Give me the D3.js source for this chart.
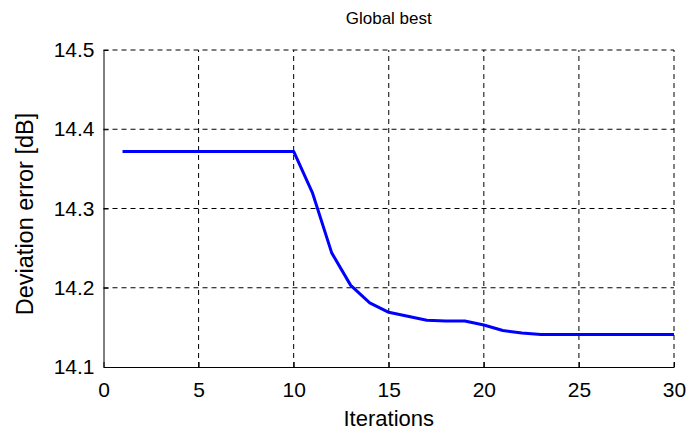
<!DOCTYPE html>
<html>
<head>
<meta charset="utf-8">
<script src="https://cdn.jsdelivr.net/npm/d3@7"></script>
<style>
  body { margin: 0; background: #fff; }
  svg { font-family: "Liberation Sans", Arial, sans-serif; }
</style>
</head>
<body>
<script>
const iterations = [1, 2, 3, 4, 5, 6, 7, 8, 9, 10, 11, 12, 13, 14, 15, 16, 17, 18, 19, 20, 21, 22, 23, 24, 25, 26, 27, 28, 29, 30];
const errorDb = [14.372, 14.372, 14.372, 14.372, 14.372, 14.372, 14.372, 14.372, 14.372, 14.372,
  14.319, 14.244, 14.203, 14.181, 14.169, 14.164, 14.159, 14.158, 14.158, 14.153,
  14.146, 14.143, 14.141, 14.141, 14.141, 14.141, 14.141, 14.141, 14.141, 14.141];
const xTicks = [0, 5, 10, 15, 20, 25, 30];
const yTicks = [14.1, 14.2, 14.3, 14.4, 14.5];

const width = 687, height = 432;
const margin = { top: 50, right: 13, bottom: 65, left: 103.5 };

const svg = d3.select("body").append("svg")
  .attr("width", width)
  .attr("height", height);

const x = d3.scaleLinear().domain([0, 30]).range([margin.left, width - margin.right]);
const y = d3.scaleLinear().domain([14.1, 14.5]).range([height - margin.bottom, margin.top]);

// grid
const grid = svg.append("g")
  .attr("stroke", "#000")
  .attr("stroke-width", 1)
  .attr("stroke-dasharray", "5,4");

grid.selectAll(".gx")
  .data(xTicks.filter(d => d > 0))
  .join("line")
  .attr("x1", d => x(d)).attr("x2", d => x(d))
  .attr("y1", y(14.1)).attr("y2", y(14.5));

grid.selectAll(".gy")
  .data(yTicks.filter(d => d > 14.1))
  .join("line")
  .attr("x1", x(0)).attr("x2", x(30))
  .attr("y1", d => y(d)).attr("y2", d => y(d));

// line
const line = d3.line()
  .x((d, i) => x(iterations[i]))
  .y(d => y(d));

svg.append("path")
  .datum(errorDb)
  .attr("fill", "none")
  .attr("stroke", "#0000ff")
  .attr("stroke-width", 3)
  .attr("stroke-linejoin", "round")
  .attr("d", line);

// axes
const xAxis = svg.append("g")
  .attr("transform", `translate(0,${y(14.1)})`)
  .call(d3.axisBottom(x).tickValues(xTicks).tickSizeInner(-5).tickSizeOuter(0).tickPadding(15));

const yAxis = svg.append("g")
  .attr("transform", `translate(${x(0)},0)`)
  .call(d3.axisLeft(y).tickValues(yTicks).tickFormat(d3.format(".1f")).tickSizeInner(-5).tickSizeOuter(0).tickPadding(9));

[xAxis, yAxis].forEach(a => {
  a.select(".domain").attr("stroke", "#000").attr("stroke-width", 1);
  a.selectAll("text").attr("font-size", 21).attr("fill", "#000")
    .style("font-family", "Liberation Sans, Arial, sans-serif");
});
xAxis.selectAll("text").attr("dy", "0.71em");

svg.append("text")
  .attr("x", x(15)).attr("y", 24)
  .attr("text-anchor", "middle")
  .attr("font-size", 17)
  .text("Global best");

svg.append("text")
  .attr("x", x(15)).attr("y", 426)
  .attr("text-anchor", "middle")
  .attr("font-size", 22)
  .text("Iterations");

svg.append("text")
  .attr("transform", `translate(33,214) rotate(-90)`)
  .attr("text-anchor", "middle")
  .attr("font-size", 23.5)
  .text("Deviation error [dB]");
</script>
</body>
</html>
